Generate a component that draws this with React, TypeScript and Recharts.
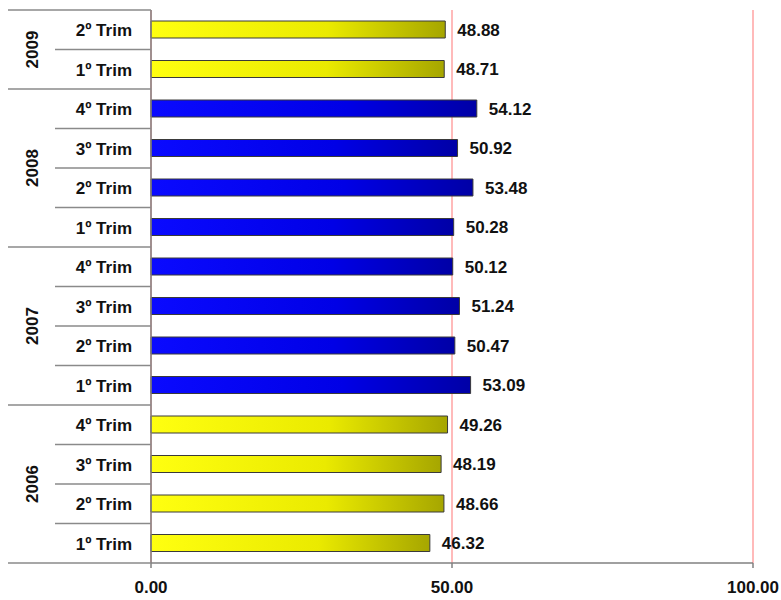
import React from 'react';
import { BarChart, Bar, XAxis, YAxis, CartesianGrid, Cell, LabelList } from 'recharts';

const quarterLabels = ['2º Trim', '1º Trim', '4º Trim', '3º Trim', '2º Trim', '1º Trim', '4º Trim', '3º Trim', '2º Trim', '1º Trim', '4º Trim', '3º Trim', '2º Trim', '1º Trim'];
const yearOfRow = ['2009', '2009', '2008', '2008', '2008', '2008', '2007', '2007', '2007', '2007', '2006', '2006', '2006', '2006'];
const values = [48.88, 48.71, 54.12, 50.92, 53.48, 50.28, 50.12, 51.24, 50.47, 53.09, 49.26, 48.19, 48.66, 46.32];
const blueYears = ['2008', '2007'];
const xTicks = [0, 50, 100];

const data = quarterLabels.map((q, i) => ({ id: `${yearOfRow[i]}-${i}`, quarter: q, year: yearOfRow[i], value: values[i] }));
const ids = data.map((d) => d.id);

const W = 781;
const H = 600;
const TOP = 10;
const BOTTOM = 37;
const AXIS_X = 151;
const BAND = (H - TOP - BOTTOM) / data.length;
const FONT = '"Liberation Sans", Arial, sans-serif';
const FS = 17;

function YTick(props: any) {
  const { y, payload } = props;
  const i = ids.indexOf(payload.value);
  if (i < 0) return null;
  const top = y - BAND / 2;
  const isYearStart = i === 0 || yearOfRow[i] !== yearOfRow[i - 1];
  let count = 0;
  if (isYearStart) {
    for (let k = i; k < yearOfRow.length && yearOfRow[k] === yearOfRow[i]; k++) count++;
  }
  const yc = top + (count * BAND) / 2;
  return (
    <g>
      <line x1={isYearStart ? 8 : 55} y1={top} x2={AXIS_X} y2={top} stroke="#8a8a8a" strokeWidth={1.5} />
      {i === data.length - 1 && (
        <line x1={8} y1={y + BAND / 2} x2={AXIS_X} y2={y + BAND / 2} stroke="#8a8a8a" strokeWidth={1.5} />
      )}
      <text x={132} y={y + 1} textAnchor="end" dominantBaseline="central" fontFamily={FONT} fontWeight={700} fontSize={FS} fill="#111">
        {quarterLabels[i]}
      </text>
      {isYearStart && (
        <text
          x={32}
          y={yc}
          textAnchor="middle"
          dominantBaseline="central"
          transform={`rotate(-90 32 ${yc})`}
          fontFamily={FONT}
          fontWeight={700}
          fontSize={FS}
          fill="#111"
        >
          {yearOfRow[i]}
        </text>
      )}
    </g>
  );
}

export default function App() {
  return (
    <div style={{ position: 'absolute', left: 0, top: 0, width: W, height: H, background: '#fff' }}>
      <BarChart width={W} height={H} data={data} layout="vertical" margin={{ top: TOP, right: W - 753, bottom: 0, left: 0 }}>
        <defs>
          <linearGradient id="gYellow" x1="0" y1="0" x2="1" y2="0">
            <stop offset="0%" stopColor="#ffff10" />
            <stop offset="60%" stopColor="#eaea00" />
            <stop offset="100%" stopColor="#a6a600" />
          </linearGradient>
          <linearGradient id="gBlue" x1="0" y1="0" x2="1" y2="0">
            <stop offset="0%" stopColor="#0a0aff" />
            <stop offset="60%" stopColor="#0000e6" />
            <stop offset="100%" stopColor="#0000a6" />
          </linearGradient>
        </defs>
        <CartesianGrid horizontal={false} stroke="#ff8c8c" strokeWidth={1.2} />
        <XAxis
          type="number"
          domain={[0, 100]}
          ticks={xTicks}
          height={BOTTOM}
          tickFormatter={(v: number) => v.toFixed(2)}
          stroke="#808080"
          strokeWidth={1.5}
          tickSize={5}
          tickMargin={13}
          tick={{ fill: '#111', fontSize: FS, fontWeight: 700, fontFamily: FONT }}
        />
        <YAxis
          type="category"
          dataKey="id"
          width={AXIS_X}
          stroke="#808080"
          strokeWidth={1.5}
          tickLine={false}
          tick={<YTick />}
          interval={0}
        />
        <Bar dataKey="value" barSize={17} isAnimationActive={false} stroke="#3a3a3a" strokeWidth={1}>
          {data.map((d) => (
            <Cell key={d.id} fill={blueYears.includes(d.year) ? 'url(#gBlue)' : 'url(#gYellow)'} />
          ))}
          <LabelList
            dataKey="value"
            position="right"
            offset={12}
            formatter={(v: any) => Number(v).toFixed(2)}
            fill="#111"
            fontSize={FS}
            fontWeight={700}
            fontFamily={FONT}
          />
        </Bar>
      </BarChart>
    </div>
  );
}
